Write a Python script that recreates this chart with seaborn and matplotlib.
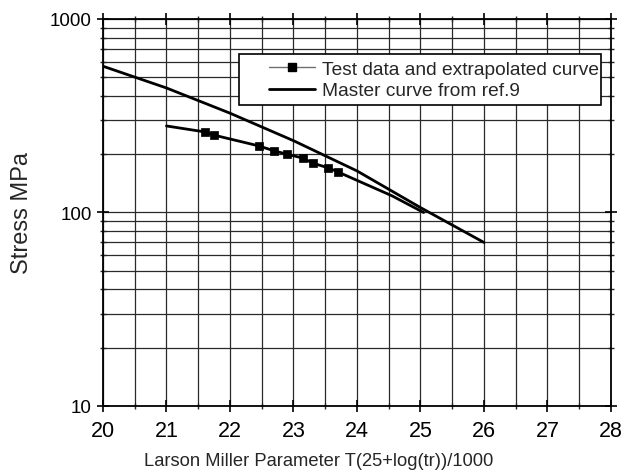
import matplotlib
matplotlib.use("Agg")
import matplotlib.pyplot as plt
import seaborn as sns
import numpy as np
import pandas as pd
from matplotlib.lines import Line2D
from matplotlib.patches import Rectangle
from matplotlib.ticker import MultipleLocator, FixedLocator, LogLocator, NullFormatter

# Data
master_x = [20, 21, 22, 23, 24, 25, 26]
master_y = [570, 440, 326, 235, 164, 106, 70]

test_line_x = [21.0, 21.6, 21.75, 22.45, 22.7, 22.9, 23.15, 23.3, 23.55, 23.7, 24.55, 25.05]
test_line_y = [280, 261, 251, 221, 208, 200, 191, 180, 170, 162, 122, 100]

test_x = [21.6, 21.75, 22.45, 22.7, 22.9, 23.15, 23.3, 23.55, 23.7]
test_y = [261, 251, 221, 208, 200, 191, 180, 170, 162]

x_ticks = [20, 21, 22, 23, 24, 25, 26, 27, 28]
y_ticks = [10, 100, 1000]
y_tick_labels = ["10", "100", "1000"]

sns.set_style("ticks")
plt.rcParams['font.family'] = ['Liberation Sans', 'DejaVu Sans']

fig = plt.figure(figsize=(6.33, 4.77), dpi=100)
ax = fig.add_axes([0.1627, 0.1468, 0.8025, 0.8113])

master_df = pd.DataFrame({"x": master_x, "y": master_y})
tl_df = pd.DataFrame({"x": test_line_x, "y": test_line_y})
tm_df = pd.DataFrame({"x": test_x, "y": test_y})

sns.lineplot(data=master_df, x="x", y="y", ax=ax, color="black", lw=2.0, zorder=4)
sns.lineplot(data=tl_df, x="x", y="y", ax=ax, color="black", lw=2.0, zorder=4)
sns.scatterplot(data=tm_df, x="x", y="y", ax=ax, color="black", marker="s", s=29,
                edgecolor="black", linewidth=0.5, zorder=5)

ax.set_yscale("log")
ax.set_xlim(20, 28)
ax.set_ylim(10, 1000)

ax.xaxis.set_major_locator(FixedLocator(x_ticks))
ax.xaxis.set_minor_locator(MultipleLocator(0.5))
ax.yaxis.set_major_locator(FixedLocator(y_ticks))
ax.set_yticklabels(y_tick_labels)
ax.yaxis.set_minor_locator(LogLocator(base=10, subs=np.arange(2, 10)))
ax.yaxis.set_minor_formatter(NullFormatter())

ax.grid(True, which="both", color="#2a2a2a", lw=0.9, zorder=1)
ax.set_axisbelow(True)

for s in ax.spines.values():
    s.set_color("black")
    s.set_linewidth(1.3)

ax.tick_params(axis="both", which="major", direction="inout", length=8,
               width=1.2, colors="black")
ax.tick_params(axis="both", which="minor", direction="inout", length=5, width=1.0)
ax.tick_params(axis="x", which="major", labelsize=15.5, pad=6)
ax.tick_params(axis="y", which="major", labelsize=13.5, pad=4)
ax.tick_params(axis="y", which="both", right=True)
ax.tick_params(axis="x", which="both", top=True)

ax.set_xlabel("Larson Miller Parameter T(25+log(tr))/1000", fontsize=13.2)
ax.xaxis.set_label_coords(0.425, -0.118)
ax.set_ylabel("Stress MPa", fontsize=17, labelpad=12)

# legend frame
ax.add_patch(Rectangle((0.2677, 0.7778), 0.7126, 0.1318, transform=ax.transAxes,
                       facecolor="white", edgecolor="black", lw=1.2, zorder=6))

handles = [
    Line2D([], [], color="#707070", lw=1.0, marker="s", markersize=6,
           markerfacecolor="black", markeredgecolor="black"),
    Line2D([], [], color="black", lw=2.0),
]
labels = ["Test data and extrapolated curve", "Master curve from ref.9"]
leg = ax.legend(handles, labels, loc="upper right", bbox_to_anchor=(0.976, 0.893),
                frameon=False, fontsize=13.8, handlelength=2.4, borderaxespad=0,
                borderpad=0, labelspacing=0.22, handletextpad=0.35)
leg.set_zorder(7)

fig.savefig("out.png", dpi=100)
